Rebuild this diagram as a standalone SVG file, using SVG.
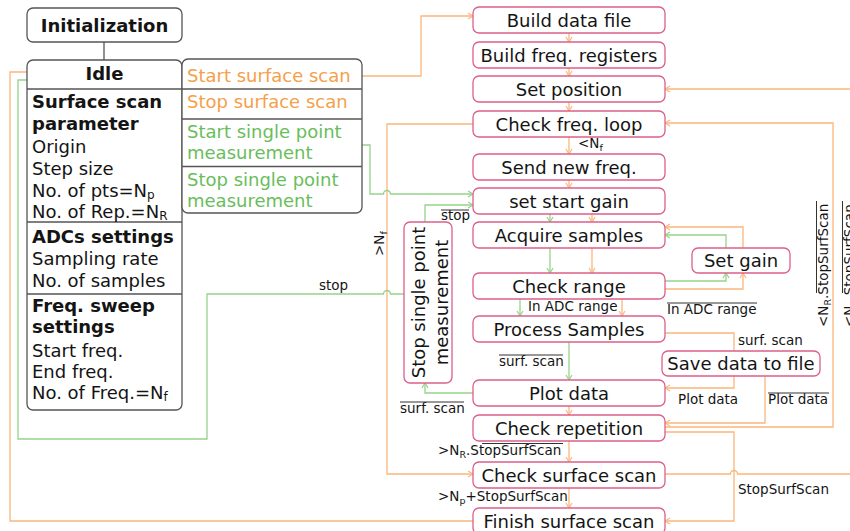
<svg xmlns="http://www.w3.org/2000/svg" width="850" height="531" viewBox="0 0 850 531">
<defs>
<style>
.t{font-family:"DejaVu Sans","Liberation Sans",sans-serif;font-size:18px;fill:#141414}
.b{font-weight:bold}
.l{font-size:13.5px}
.c{text-anchor:middle}
.ot{fill:#f5a04a}
.gt{fill:#69bd5c}
.n{fill:#fff;stroke:#dd5f8b;stroke-width:1.3}
.g{fill:#fff;stroke:#555;stroke-width:1.3}
.o{fill:none;stroke:#fbb67b;stroke-width:1.3}
.gr{fill:none;stroke:#95d38a;stroke-width:1.3}
.ov{stroke:#333;stroke-width:1}
.ae{marker-end:url(#ao)}
.ge{marker-end:url(#ag)}
</style>
<marker id="ao" markerWidth="8" markerHeight="8" refX="6" refY="4" orient="auto" markerUnits="userSpaceOnUse"><path d="M1,1 L6,4 L1,7" fill="none" stroke="#fbb67b" stroke-width="1.2"/></marker>
<marker id="ag" markerWidth="8" markerHeight="8" refX="6" refY="4" orient="auto" markerUnits="userSpaceOnUse"><path d="M1,1 L6,4 L1,7" fill="none" stroke="#95d38a" stroke-width="1.2"/></marker>
</defs>
<rect width="850" height="531" fill="#fff"/>

<g id="connectors">
<path class="g" d="M104,42 V60" fill="none"/>
<!-- orange -->
<path class="o ae" d="M362,76 H421 V16 H473"/>
<path class="o ae" d="M569,33 V42"/>
<path class="o ae" d="M569,68 V76"/>
<path class="o ae" d="M569,102 V111"/>
<path class="o ae" d="M569,137 V154"/>
<path class="o ae" d="M569,180 V188"/>
<path class="o ae" d="M592,214 V222"/>
<path class="o ae" d="M592,248 V273"/>
<path class="o ae" d="M622,299 V316"/>
<path class="o ae" d="M569,406 V415"/>
<path class="o ae" d="M569,441 V462"/>
<path class="o ae" d="M569,488 V508"/>
<path class="o ae" d="M473,124 H387 V474 H473"/>
<path class="o ae" d="M665,289 H743 V273"/>
<path class="o ae" d="M743,248 V227 H665"/>
<path class="o" d="M665,333 H734 V351"/>
<path class="o ae" d="M734,376 V388 H665"/>
<path class="o ae" d="M765,376 V423 H665"/>
<path class="o ae" d="M665,427 H833 V123 H665"/>
<path class="o ae" d="M665,432 H734 V521 H665"/>
<path class="o ae" d="M665,474 H730.5 A3.5,3.5 0 0 1 737.5,474 H862 V89 H665"/>
<path class="o" d="M473,521 H10 V72 H27"/>
<!-- green -->
<path class="gr ge" d="M550,214 V222"/>
<path class="gr ge" d="M550,248 V273"/>
<path class="gr ge" d="M520,299 V316"/>
<path class="gr ge" d="M569,342 V380"/>
<path class="gr ge" d="M665,281 H726 V273"/>
<path class="gr ge" d="M726,248 V235 H665"/>
<path class="gr ge" d="M362,145 H370 V194 H383.5 A3.5,3.5 0 0 1 390.5,194 H473"/>
<path class="gr ge" d="M425,222 V205 H473"/>
<path class="gr ge" d="M473,393 H425 V383"/>
<path class="gr" d="M404,294 H390.5 A3.5,3.5 0 0 0 383.5,294 H207 V439 H18 V80 H27"/>
</g>

<g id="connector-labels" class="t l">
<text x="578" y="148">&lt;N<tspan font-size="9.5" dy="3">f</tspan></text>
<text x="441" y="220">stop</text>
<line class="ov" x1="441" y1="210" x2="469" y2="210"/>
<text x="528" y="311">In ADC range</text>
<text x="667" y="314">In ADC range</text>
<line class="ov" x1="667" y1="303" x2="757" y2="303"/>
<text x="738" y="345">surf. scan</text>
<text x="499" y="366">surf. scan</text>
<line class="ov" x1="499" y1="355" x2="563" y2="355"/>
<text x="400" y="413">surf. scan</text>
<line class="ov" x1="400" y1="402" x2="464" y2="402"/>
<text x="678" y="404">Plot data</text>
<text x="768" y="404">Plot data</text>
<line class="ov" x1="768" y1="393" x2="829" y2="393"/>
<text x="438" y="455">&gt;N<tspan font-size="9.5" dy="3">R</tspan><tspan dy="-3">.StopSurfScan</tspan></text>
<line class="ov" x1="482" y1="443.5" x2="563" y2="443.5"/>
<text x="438" y="501">&gt;N<tspan font-size="9.5" dy="3">p</tspan><tspan dy="-3">+StopSurfScan</tspan></text>
<text x="738" y="494">StopSurfScan</text>
<text x="319" y="290">stop</text>
<g transform="translate(384,256) rotate(-90)"><text x="0" y="0">&gt;N<tspan font-size="9.5" dy="3">f</tspan></text></g>
<g transform="translate(828,327) rotate(-90)"><text x="0" y="0">&lt;N<tspan font-size="9.5" dy="3">R</tspan><tspan dy="-3">.StopSurfScan</tspan></text><line class="ov" x1="34" y1="-11.5" x2="126" y2="-11.5"/></g>
<g transform="translate(854,327) rotate(-90)"><text x="0" y="0">&lt;N<tspan font-size="9.5" dy="3">p</tspan><tspan dy="-3">.StopSurfScan</tspan></text><line class="ov" x1="34" y1="-11.5" x2="126" y2="-11.5"/></g>
</g>

<g id="initialization">
<rect class="g" x="27" y="8" width="155" height="34" rx="6"/>
<text class="t b c" x="104.5" y="31.5">Initialization</text>
</g>

<g id="idle">
<rect class="g" x="27" y="60" width="155" height="350" rx="6"/>
<line class="g" x1="27" y1="89" x2="182" y2="89"/>
<line class="g" x1="27" y1="222" x2="182" y2="222"/>
<line class="g" x1="27" y1="294" x2="182" y2="294"/>
<text class="t b c" x="104.5" y="80">Idle</text>
<text class="t b" x="32" y="108">Surface scan</text>
<text class="t b" x="32" y="130">parameter</text>
<text class="t" x="32" y="153">Origin</text>
<text class="t" x="32" y="175">Step size</text>
<text class="t" x="32" y="197">No. of pts=N<tspan font-size="12" dy="2">p</tspan></text>
<text class="t" x="32" y="218">No. of Rep.=N<tspan font-size="12" dy="2">R</tspan></text>
<text class="t b" x="32" y="243">ADCs settings</text>
<text class="t" x="32" y="265">Sampling rate</text>
<text class="t" x="32" y="287">No. of samples</text>
<text class="t b" x="32" y="312">Freq. sweep</text>
<text class="t b" x="32" y="333">settings</text>
<text class="t" x="32" y="357">Start freq.</text>
<text class="t" x="32" y="378">End freq.</text>
<text class="t" x="32" y="399">No. of Freq.=N<tspan font-size="12" dy="2">f</tspan></text>
</g>

<g id="idle-menu">
<rect class="g" x="182" y="59" width="180" height="154" rx="6"/>
<line class="g" x1="182" y1="89" x2="362" y2="89"/>
<line class="g" x1="182" y1="119" x2="362" y2="119"/>
<line class="g" x1="182" y1="166.5" x2="362" y2="166.5"/>
<text class="t ot" x="187" y="82">Start surface scan</text>
<text class="t ot" x="187" y="108">Stop surface scan</text>
<text class="t gt" x="187" y="138">Start single point</text>
<text class="t gt" x="187" y="159">measurement</text>
<text class="t gt" x="187" y="186">Stop single point</text>
<text class="t gt" x="187" y="207">measurement</text>
</g>

<g id="build-data-file"><rect class="n" x="473" y="7" width="192" height="26" rx="6"/><text class="t c" x="569" y="26.5">Build data file</text></g>
<g id="build-freq-registers"><rect class="n" x="473" y="42" width="192" height="26" rx="6"/><text class="t c" x="569" y="61.5">Build freq. registers</text></g>
<g id="set-position"><rect class="n" x="473" y="76" width="192" height="26" rx="6"/><text class="t c" x="569" y="95.5">Set position</text></g>
<g id="check-freq-loop"><rect class="n" x="473" y="111" width="192" height="26" rx="6"/><text class="t c" x="569" y="130.5">Check freq. loop</text></g>
<g id="send-new-freq"><rect class="n" x="473" y="154" width="192" height="26" rx="6"/><text class="t c" x="569" y="173.5">Send new freq.</text></g>
<g id="set-start-gain"><rect class="n" x="473" y="188" width="192" height="26" rx="6"/><text class="t c" x="569" y="207.5">set start gain</text></g>
<g id="acquire-samples"><rect class="n" x="473" y="222" width="192" height="26" rx="6"/><text class="t c" x="569" y="241.5">Acquire samples</text></g>
<g id="check-range"><rect class="n" x="473" y="273" width="192" height="26" rx="6"/><text class="t c" x="569" y="292.5">Check range</text></g>
<g id="process-samples"><rect class="n" x="473" y="316" width="192" height="26" rx="6"/><text class="t c" x="569" y="335.5">Process Samples</text></g>
<g id="plot-data"><rect class="n" x="473" y="380" width="192" height="26" rx="6"/><text class="t c" x="569" y="399.5">Plot data</text></g>
<g id="check-repetition"><rect class="n" x="473" y="415" width="192" height="26" rx="6"/><text class="t c" x="569" y="434.5">Check repetition</text></g>
<g id="check-surface-scan"><rect class="n" x="473" y="462" width="192" height="26" rx="6"/><text class="t c" x="569" y="481.5">Check surface scan</text></g>
<g id="finish-surface-scan"><rect class="n" x="473" y="508" width="192" height="26" rx="6"/><text class="t c" x="569" y="527.5">Finish surface scan</text></g>
<g id="set-gain"><rect class="n" x="692" y="248" width="98" height="25" rx="6"/><text class="t c" x="741" y="267">Set gain</text></g>
<g id="save-data-to-file"><rect class="n" x="662" y="351" width="158" height="25" rx="6"/><text class="t c" x="741" y="370">Save data to file</text></g>
<g id="stop-single-point">
<rect class="n" x="404" y="222" width="48" height="161" rx="6"/>
<g transform="translate(425,302.5) rotate(-90)"><text class="t c" x="0" y="0">Stop single point</text></g>
<g transform="translate(448,302.5) rotate(-90)"><text class="t c" x="0" y="0">measurement</text></g>
</g>
</svg>
